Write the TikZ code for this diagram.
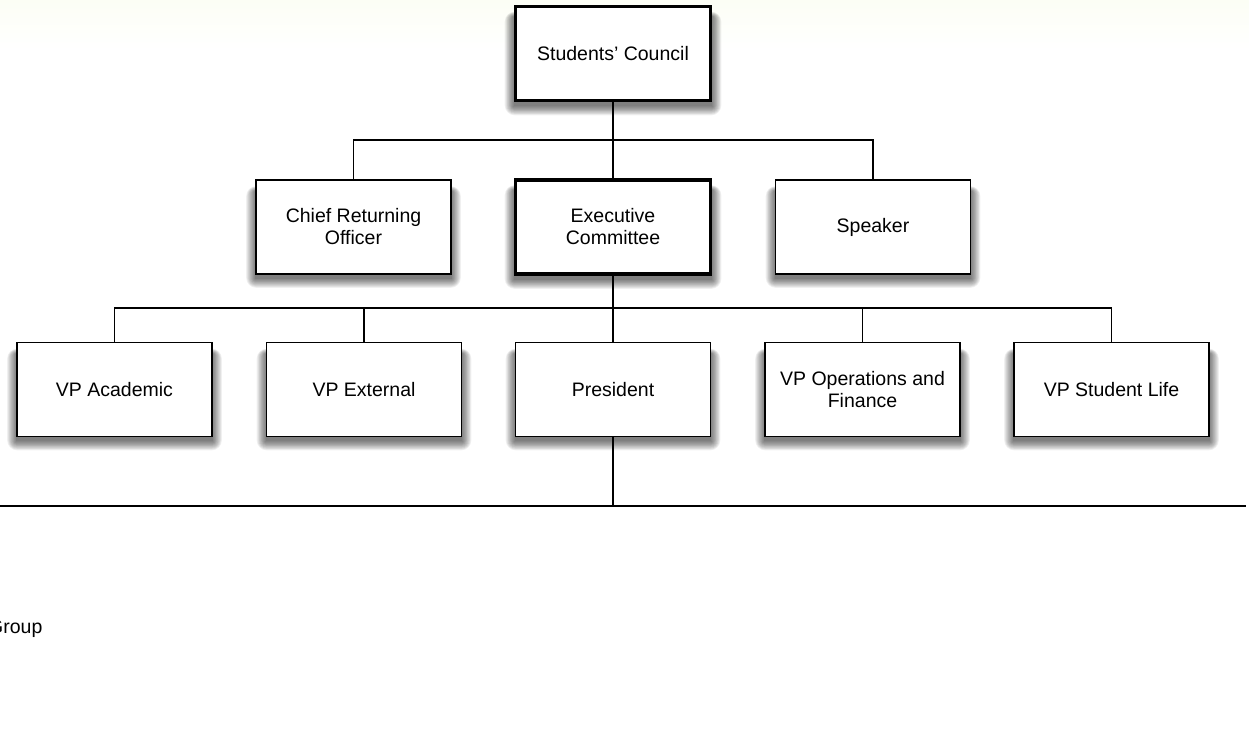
\documentclass[tikz,border=0pt]{standalone}
\usepackage{fontspec}
\setmainfont{Liberation Sans}

\pgfdeclarelayer{paper}
\pgfdeclarelayer{shade}
\pgfsetlayers{paper,shade,main}

\definecolor{paperTint}{RGB}{252,254,245}

\tikzset{
  orgbox/.style={
    draw=black, fill=white, line width=1.6pt,
    minimum width=195pt, minimum height=94pt,
    align=center, inner sep=0pt,
    font=\fontsize{19.5}{22}\selectfont
  },
  keybox/.style={orgbox, line width=3.6pt},
  link/.style={draw=black, line width=1.6pt},
  note/.style={font=\fontsize{19.5}{22}\selectfont, inner sep=0pt, anchor=base west},
  softlayer/.style={fill=black, opacity=0.06, draw=none}
}

% soft drop shadow under a box: stacked translucent rectangles, pushed down
\newcommand\castshadow[1]{%
  \begin{pgfonlayer}{shade}
    \foreach \r in {0,1,...,10}{%
      \fill[softlayer, rounded corners=\r pt]
        ([xshift=-0.9*\r pt, yshift=-12pt+0.5*\r pt]#1.north west) rectangle
        ([xshift=0.9*\r pt, yshift=-4pt-0.9*\r pt]#1.south east);
    }
  \end{pgfonlayer}}

\begin{document}
\begin{tikzpicture}[x=1pt, y=-1pt]
  % page and faint tint along the top edge
  \begin{pgfonlayer}{paper}
    \fill[white] (0,0) rectangle (1249,731);
    \shade[top color=paperTint, bottom color=white] (0,0) rectangle (1249,50);
  \end{pgfonlayer}
  \useasboundingbox (0,0) rectangle (1249,731);

  % junction points of the connectors
  \coordinate (split1) at (613,140);
  \coordinate (split2) at (613,308);
  \coordinate (railL) at (0,506);
  \coordinate (railR) at (1246,506);
  \coordinate (railM) at (613,506);

  % top level
  \node[keybox] (council) at (613,53.5) {Students' Council};

  % second level
  \node[orgbox] (cro)     at (353.5,227) {Chief Returning\\Officer};
  \node[keybox] (exec)    at (613,227)   {Executive\\Committee};
  \node[orgbox] (speaker) at (873,227)   {Speaker};

  % third level
  \node[orgbox] (acad)  at (114.5,389.5)  {VP Academic};
  \node[orgbox] (ext)   at (364,389.5)    {VP External};
  \node[orgbox] (pres)  at (613,389.5)    {President};
  \node[orgbox] (ops)   at (862.5,389.5)  {VP Operations and\\Finance};
  \node[orgbox] (life)  at (1111.5,389.5) {VP Student Life};

  \foreach \n in {council,cro,exec,speaker,acad,ext,pres,ops,life}{\castshadow{\n}}

  % connectors
  \path[link] (council.south) -- (split1);
  \path[link] (split1) -| (cro.north);
  \path[link] (split1) -| (speaker.north);
  \path[link] (split1) -- (exec.north);

  \path[link] (exec.south) -- (split2);
  \path[link] (split2) -| (acad.north);
  \path[link] (split2) -| (ext.north);
  \path[link] (split2) -- (pres.north);
  \path[link] (split2) -| (ops.north);
  \path[link] (split2) -| (life.north);

  \path[link] (pres.south) -- (railM);
  \path[link] (railL) -- (railR);

  % label running off the left edge
  \node[note] (grp) at (-12,633) {Group};
\end{tikzpicture}
\end{document}
